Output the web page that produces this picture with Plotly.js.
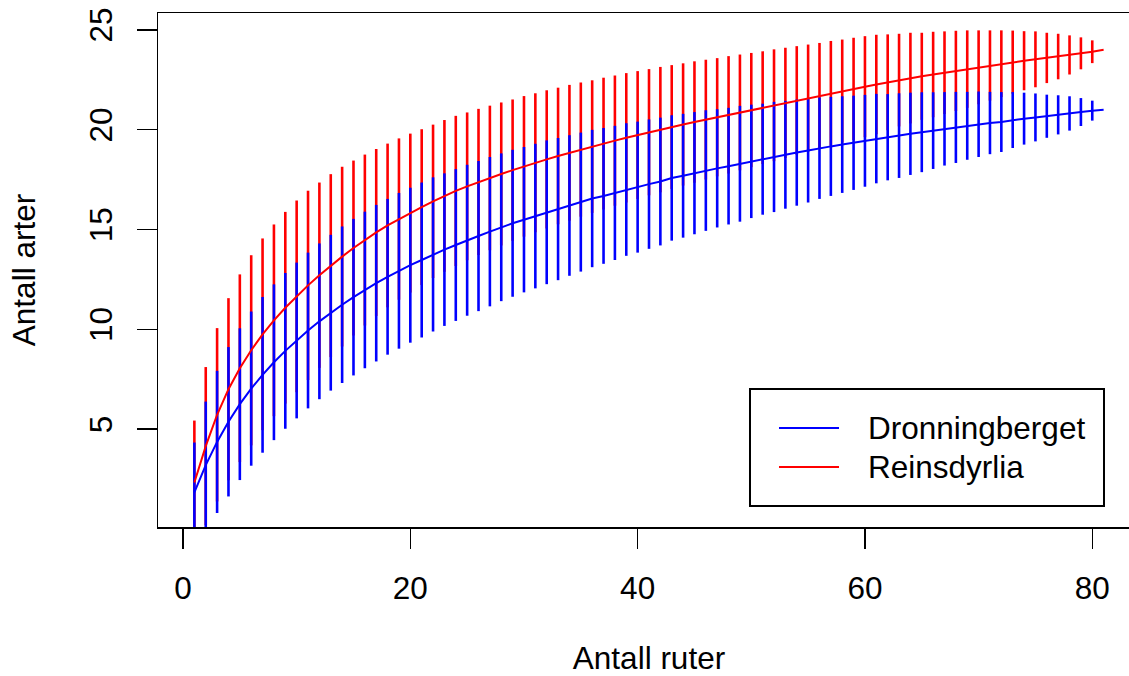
<!DOCTYPE html>
<html><head><meta charset="utf-8">
<script src="https://cdn.plot.ly/plotly-3.0.1.min.js"></script>
<style>html,body{margin:0;padding:0;overflow:hidden;background:#fff}#chart{width:1145px;height:676px}</style>
</head><body><div id="chart"></div><script>
const antallRuter = [1,2,3,4,5,6,7,8,9,10,11,12,13,14,15,16,17,18,19,20,21,22,23,24,25,26,27,28,29,30,31,32,33,34,35,36,37,38,39,40,41,42,43,44,45,46,47,48,49,50,51,52,53,54,55,56,57,58,59,60,61,62,63,64,65,66,67,68,69,70,71,72,73,74,75,76,77,78,79,80,81];
const dronningbergetMean = [1.83,3.2,4.36,5.37,6.25,7.03,7.72,8.35,8.92,9.44,9.94,10.40,10.83,11.23,11.61,11.97,12.31,12.63,12.93,13.21,13.47,13.75,13.99,14.22,14.46,14.67,14.89,15.11,15.31,15.49,15.67,15.86,16.02,16.2,16.37,16.55,16.68,16.83,17.0,17.12,17.27,17.40,17.58,17.69,17.82,17.95,18.06,18.17,18.29,18.41,18.52,18.63,18.74,18.85,18.95,19.07,19.16,19.25,19.34,19.44,19.55,19.62,19.70,19.79,19.87,19.95,20.04,20.11,20.19,20.27,20.33,20.38,20.48,20.55,20.61,20.67,20.74,20.81,20.88,20.95,21.0];
const dronningbergetSD = [1.25,1.59,1.78,1.87,1.9,1.93,1.95,1.95,1.95,1.95,1.95,1.95,1.95,1.96,1.96,1.96,1.96,1.95,1.95,1.94,1.94,1.93,1.91,1.9,1.89,1.88,1.87,1.85,1.84,1.82,1.81,1.8,1.78,1.76,1.74,1.72,1.7,1.68,1.66,1.64,1.62,1.6,1.57,1.55,1.53,1.51,1.48,1.46,1.45,1.42,1.39,1.38,1.35,1.33,1.3,1.27,1.24,1.21,1.18,1.15,1.12,1.08,1.06,1.03,1.0,0.96,0.92,0.89,0.85,0.82,0.78,0.75,0.7,0.65,0.6,0.54,0.49,0.43,0.35,0.25,0];
const reinsdyrliaMean = [2.33,4.15,5.72,7.0,8.05,8.95,9.75,10.45,11.08,11.65,12.2,12.71,13.19,13.64,14.07,14.47,14.85,15.2,15.52,15.82,16.12,16.41,16.68,16.93,17.16,17.38,17.58,17.78,17.97,18.16,18.34,18.51,18.68,18.84,19.0,19.15,19.3,19.45,19.59,19.73,19.87,20.0,20.13,20.26,20.38,20.5,20.62,20.74,20.86,20.98,21.1,21.22,21.34,21.46,21.58,21.7,21.82,21.93,22.04,22.15,22.26,22.37,22.48,22.58,22.67,22.76,22.85,22.94,23.03,23.12,23.21,23.3,23.38,23.45,23.52,23.59,23.66,23.74,23.82,23.9,24.0];
const reinsdyrliaSD = [1.55,1.98,2.17,2.28,2.35,2.38,2.4,2.4,2.4,2.4,2.37,2.32,2.29,2.25,2.19,2.14,2.09,2.05,2.02,1.99,1.95,1.92,1.9,1.88,1.85,1.83,1.81,1.79,1.77,1.76,1.74,1.73,1.71,1.7,1.68,1.66,1.65,1.63,1.62,1.6,1.58,1.57,1.55,1.53,1.52,1.5,1.48,1.47,1.45,1.43,1.41,1.4,1.38,1.36,1.34,1.32,1.31,1.29,1.28,1.265,1.245,1.2,1.16,1.135,1.09,1.07,1.035,1.005,0.97,0.925,0.88,0.835,0.79,0.74,0.7,0.63,0.57,0.49,0.4,0.285,0];
const xTickVals = [0,20,40,60,80];
const yTickVals = [5,10,15,20,25];
const seriesNames = ['Dronningberget','Reinsdyrlia'];
const seriesColors = ['#0000FF','#FF0000'];

function segments(mean, sd) {
  const xs = [], ys = [];
  for (let i = 0; i < antallRuter.length; i++) {
    if (sd[i] > 0) {
      xs.push(antallRuter[i], antallRuter[i], null);
      ys.push(mean[i] - 2 * sd[i], mean[i] + 2 * sd[i], null);
    }
  }
  return {xs, ys};
}
const segR = segments(reinsdyrliaMean, reinsdyrliaSD);
const segD = segments(dronningbergetMean, dronningbergetSD);

const FONT = 'Arial, "Liberation Sans", sans-serif';
const FS = 31.5;

const traces = [
  {x: segR.xs, y: segR.ys, mode: 'lines', line: {color: seriesColors[1], width: 2.6}, showlegend: false, hoverinfo: 'skip'},
  {x: segD.xs, y: segD.ys, mode: 'lines', line: {color: seriesColors[0], width: 2.6}, showlegend: false, hoverinfo: 'skip'},
  {x: antallRuter, y: dronningbergetMean, mode: 'lines', name: seriesNames[0], line: {color: seriesColors[0], width: 2}, showlegend: false},
  {x: antallRuter, y: reinsdyrliaMean, mode: 'lines', name: seriesNames[1], line: {color: seriesColors[1], width: 2}, showlegend: false}
];

// legend box drawn in paper coordinates (plot area: 158..1140 px wide, 13..527 px tall)
const LG = {x0: 0.60285, x1: 0.96334, y0: 0.04086, y1: 0.26848, lineX0: 0.63238, lineX1: 0.69348, textX: 0.72098, rowY: [0.19261, 0.11673]};
const shapes = [
  {type: 'rect', xref: 'paper', yref: 'paper', x0: LG.x0, x1: LG.x1, y0: LG.y0, y1: LG.y1, line: {color: '#000', width: 2}, fillcolor: '#fff', layer: 'above'}
];
const annotations = [];
seriesNames.forEach((name, i) => {
  shapes.push({type: 'line', xref: 'paper', yref: 'paper', x0: LG.lineX0, x1: LG.lineX1, y0: LG.rowY[i], y1: LG.rowY[i], line: {color: seriesColors[i], width: 2}, layer: 'above'});
  annotations.push({xref: 'paper', yref: 'paper', x: LG.textX, y: LG.rowY[i], xanchor: 'left', yanchor: 'middle', text: name, showarrow: false, font: {family: FONT, size: FS, color: '#000'}});
});

const layout = {
  width: 1145, height: 676,
  margin: {l: 158, r: 5, t: 13, b: 149},
  paper_bgcolor: '#fff', plot_bgcolor: '#fff',
  font: {family: FONT, size: FS, color: '#000'},
  showlegend: false,
  shapes: shapes,
  annotations: annotations,
  xaxis: {
    range: [-2.2, 84.2], tickvals: xTickVals, ticktext: xTickVals.map(String),
    ticks: 'outside', ticklen: 20, tickwidth: 1.5, tickcolor: '#000',
    ticklabelstandoff: 13,
    showline: true, linecolor: '#000', linewidth: 1.5, mirror: true,
    showgrid: false, zeroline: false,
    tickfont: {family: FONT, size: FS, color: '#000'},
    title: {text: 'Antall ruter', font: {family: FONT, size: FS, color: '#000'}, standoff: 62}
  },
  yaxis: {
    range: [0.1, 25.84], tickvals: yTickVals, ticktext: yTickVals.map(String),
    tickangle: -90,
    ticks: 'outside', ticklen: 20, tickwidth: 1.5, tickcolor: '#000',
    ticklabelstandoff: 12,
    showline: true, linecolor: '#000', linewidth: 1.5, mirror: true,
    showgrid: false, zeroline: false,
    tickfont: {family: FONT, size: FS, color: '#000'},
    title: {text: 'Antall arter', font: {family: FONT, size: FS, color: '#000'}, standoff: 38}
  }
};

Plotly.newPlot('chart', traces, layout, {displayModeBar: false, staticPlot: true});
</script></body></html>
